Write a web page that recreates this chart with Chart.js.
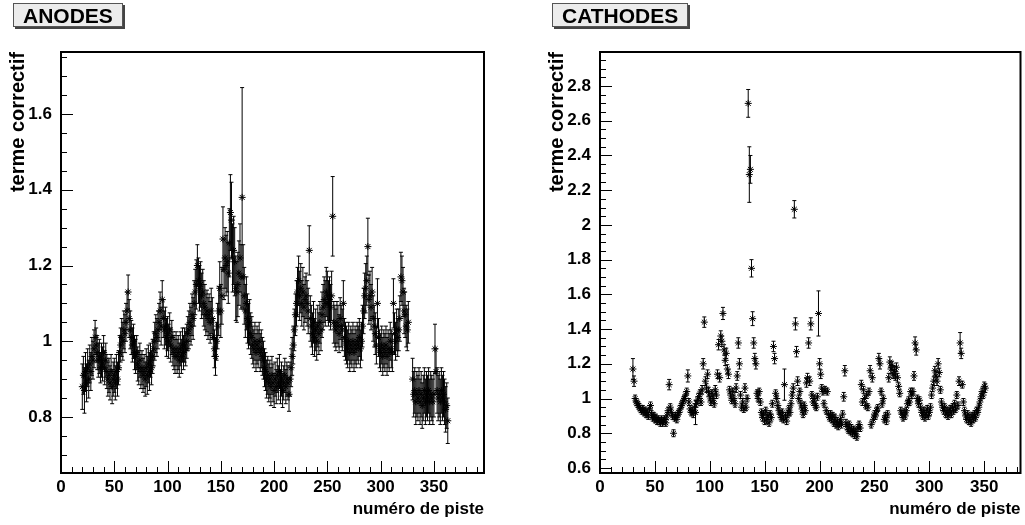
<!DOCTYPE html>
<html>
<head>
<meta charset="utf-8">
<script src="https://cdn.jsdelivr.net/npm/chart.js@4.4.1/dist/chart.umd.min.js"></script>
<style>
  body { margin: 0; background: #fff; }
  #page { position: relative; width: 1025px; height: 525px; overflow: hidden; }
  canvas { position: absolute; top: 0; }
  .pave {
    position: absolute; top: 3px; height: 22px; line-height: 23px; padding: 0 9px;
    background: #ececec; border: 1px solid #555; box-shadow: 2px 2px 0 #444;
    font: bold 21px 'Liberation Sans', Arial, Helvetica, sans-serif; color: #000; white-space: nowrap;
  }
</style>
</head>
<body>
<div id="page">
  <canvas id="anodes" width="512" height="525" style="left:0"></canvas>
  <canvas id="cathodes" width="486" height="525" style="left:539px"></canvas>
  <div class="pave" id="title0" style="left:13px"></div>
  <div class="pave" id="title1" style="left:552px"></div>
</div>
<script>
// panel titles and axis titles
const panelTitles = ['ANODES', 'CATHODES'];
const xTitle = 'numéro de piste';
const yTitle = 'terme correctif';

// anodes: first strip number, then one value per strip (null = missing strip)
const anodeFirst = 20;
const anodeValues = [
  0.88, 0.91, 0.87, 0.92, 0.89, 0.93, 0.90, 0.94, 0.92, 0.96,
  0.95, 0.98, 1.01, 0.99, 0.97, 0.95, 0.96, 0.93, 0.95, 0.94,
  0.97, 0.93, 0.95, 0.92, 0.90, 0.91, 0.89, 0.92, 0.88, 0.90,
  0.91, 0.89, 0.92, 0.90, 0.93, 0.97, 0.99, 1.01, 1.00, 1.03,
  1.02, 1.05, 1.08, 1.13, 1.06, 1.03, 1.01, 0.99, 1.00, 0.97,
  0.96, 0.97, 0.94, 0.93, 0.95, 0.92, 0.93, 0.91, 0.92, 0.90,
  0.93, 0.91, 0.94, 0.92, 0.95, 0.93, 0.96, 0.98, 1.00, 1.02,
  1.01, 1.03, 1.05, 1.08, 1.04, 1.11, 1.06, 1.03, 1.04, 1.01,
  1.02, 1.00, 1.03, 0.99, 1.01, 0.98, 0.97, 0.96, 0.98, 0.96,
  0.97, 0.95, 0.98, 0.96, 0.99, 0.97, 0.99, 0.98, 1.00, 1.02,
  1.03, 1.05, 1.04, 1.07, 1.06, 1.10, 1.13, 1.15, 1.20, 1.16,
  1.14, 1.15, 1.12, 1.13, 1.10, 1.09, 1.07, 1.08, 1.06, 1.07,
  1.05, 1.08, 1.06, 1.01, 0.98, 0.96, 1.00, 1.04, 1.08, 1.14,
  1.08, 1.12, 1.27, 1.19, 1.22, 1.20, 1.21, 1.18, 1.26, 1.34,
  1.32, 1.22, 1.24, 1.21, 1.14, 1.13, 1.15, 1.18, 1.22, 1.17,
  1.38, 1.17, 1.12, 1.08, 1.10, 1.06, 1.04, 1.05, 1.02, 1.01,
  0.99, 0.98, 1.00, 0.97, 0.99, 0.98, 1.00, 0.97, 0.98, 0.96,
  0.95, 0.93, 0.92, 0.90, 0.91, 0.89, 0.90, 0.88, 0.91, 0.89,
  0.87, 0.90, 0.88, 0.91, 0.89, 0.92, 0.88, 0.90, 0.87, 0.89,
  0.91, 0.88, 0.90, 0.89, 0.86, 0.90, 0.93, 0.96, 0.99, 1.03,
  1.07, 1.10, 1.13, 1.16, 1.12, 1.14, 1.10, 1.13, 1.09, 1.11,
  1.12, 1.10, 1.08, 1.24, 1.06, 1.04, 1.02, 1.05, 1.01, 1.03,
  1.00, 1.04, 1.02, 1.05, 1.03, 1.07, 1.09, 1.11, 1.10, 1.13,
  1.12, 1.10, 1.11, 1.09, 1.12, 1.33, 1.05, 1.04, 1.03, 1.05,
  1.04, 1.02, 1.06, 1.04, 1.03, 1.10, 1.01, 1.00, 0.99, 0.98,
  1.00, 0.97, 0.99, 0.98, 1.00, 0.97, 0.99, 0.98, 1.00, 0.99,
  1.01, 0.98, 1.00, 1.04, 1.08, 1.12, 1.14, 1.16, 1.25, 1.11,
  1.12, 1.09, 1.13, 1.06, 1.04, 1.02, 0.99, 1.10, 1.01, 0.98,
  0.97, 0.99, 0.96, 0.98, 0.97, 0.99, 0.96, 0.98, 0.97, 1.00,
  0.98, 0.97, 1.10, 1.02, 1.00, 1.03, 1.01, 1.03, 1.06, 1.17,
  1.16, 1.13, 1.08, 1.07, 1.04, 1.03, 1.05, null, null, null,
  0.90, 0.86, 0.87, 0.84, 0.86, 0.85, 0.87, 0.84, 0.86, 0.83,
  0.85, 0.87, 0.84, 0.86, 0.85, 0.87, 0.84, 0.86, 0.85, 0.84,
  0.86, 0.98, 0.92, 0.87, 0.85, 0.86, 0.84, 0.87, 0.85, 0.86,
  0.84, 0.82, 0.83, 0.79
];
const anodeErrors = [
  0.06, 0.05, 0.06, 0.05, 0.05, 0.05, 0.05, 0.05, 0.05, 0.05,
  0.05, 0.05, 0.045, 0.045, 0.045, 0.045, 0.045, 0.04, 0.045, 0.045,
  0.045, 0.045, 0.045, 0.045, 0.045, 0.045, 0.045, 0.045, 0.045, 0.045,
  0.045, 0.045, 0.045, 0.045, 0.045, 0.045, 0.045, 0.05, 0.05, 0.05,
  0.05, 0.05, 0.05, 0.045, 0.05, 0.05, 0.045, 0.045, 0.045, 0.045,
  0.045, 0.045, 0.045, 0.045, 0.045, 0.045, 0.045, 0.045, 0.045, 0.045,
  0.05, 0.05, 0.05, 0.05, 0.045, 0.045, 0.045, 0.045, 0.05, 0.05,
  0.05, 0.05, 0.05, 0.05, 0.05, 0.05, 0.05, 0.05, 0.05, 0.05,
  0.045, 0.045, 0.045, 0.045, 0.045, 0.045, 0.045, 0.045, 0.045, 0.045,
  0.045, 0.045, 0.045, 0.045, 0.045, 0.045, 0.045, 0.045, 0.045, 0.045,
  0.05, 0.05, 0.05, 0.055, 0.055, 0.06, 0.06, 0.065, 0.055, 0.06,
  0.06, 0.06, 0.06, 0.06, 0.06, 0.06, 0.055, 0.055, 0.055, 0.055,
  0.055, 0.06, 0.055, 0.05, 0.05, 0.05, 0.05, 0.06, 0.065, 0.07,
  0.07, 0.075, 0.085, 0.08, 0.08, 0.08, 0.08, 0.08, 0.09, 0.1,
  0.1, 0.09, 0.09, 0.09, 0.085, 0.08, 0.085, 0.085, 0.09, 0.085,
  0.29, 0.085, 0.075, 0.07, 0.07, 0.065, 0.06, 0.06, 0.055, 0.055,
  0.05, 0.05, 0.05, 0.05, 0.05, 0.05, 0.05, 0.05, 0.05, 0.05,
  0.05, 0.05, 0.05, 0.05, 0.05, 0.05, 0.05, 0.05, 0.05, 0.05,
  0.045, 0.045, 0.045, 0.045, 0.045, 0.045, 0.045, 0.045, 0.045, 0.045,
  0.045, 0.045, 0.045, 0.045, 0.045, 0.045, 0.05, 0.05, 0.05, 0.055,
  0.055, 0.06, 0.065, 0.065, 0.065, 0.065, 0.06, 0.065, 0.06, 0.06,
  0.06, 0.06, 0.06, 0.065, 0.06, 0.055, 0.055, 0.055, 0.05, 0.055,
  0.05, 0.055, 0.055, 0.055, 0.055, 0.06, 0.06, 0.06, 0.06, 0.065,
  0.065, 0.06, 0.06, 0.06, 0.065, 0.105, 0.055, 0.055, 0.055, 0.055,
  0.055, 0.05, 0.055, 0.055, 0.055, 0.06, 0.05, 0.05, 0.05, 0.05,
  0.05, 0.05, 0.05, 0.05, 0.05, 0.05, 0.05, 0.05, 0.05, 0.05,
  0.05, 0.05, 0.05, 0.055, 0.06, 0.06, 0.065, 0.065, 0.075, 0.065,
  0.065, 0.06, 0.065, 0.06, 0.055, 0.055, 0.05, 0.065, 0.05, 0.05,
  0.05, 0.05, 0.05, 0.05, 0.05, 0.05, 0.05, 0.05, 0.05, 0.05,
  0.05, 0.05, 0.065, 0.055, 0.05, 0.055, 0.05, 0.055, 0.06, 0.065,
  0.065, 0.065, 0.06, 0.06, 0.055, 0.055, 0.055, null, null, null,
  0.055, 0.06, 0.06, 0.06, 0.06, 0.06, 0.06, 0.06, 0.06, 0.06,
  0.06, 0.06, 0.06, 0.06, 0.06, 0.06, 0.06, 0.06, 0.06, 0.06,
  0.06, 0.065, 0.06, 0.06, 0.06, 0.06, 0.06, 0.06, 0.06, 0.06,
  0.06, 0.06, 0.06, 0.06
];

// cathodes
const cathodeFirst = 30;
const cathodeValues = [
  1.17, 1.10, 1.00, 0.98, 0.97, 0.96, 0.95, 0.94, 0.93, 0.94,
  0.92, 0.93, 0.91, 0.92, 0.90, 0.94, 0.96, 0.91, 0.89, 0.90,
  0.88, 0.89, 0.87, 0.88, 0.87, 0.86, 0.88, 0.86, 0.87, 0.88,
  0.86, 0.90, 0.93, 1.08, 0.95, 0.92, 0.90, 0.80, 0.89, 0.90,
  0.88, 0.91, 0.92, 0.94, 0.96, 0.97, 0.99, 1.00, 1.02, 1.04,
  1.13, 0.98, 0.94, 0.92, 0.93, 0.91, 0.95, 0.92, 0.97, 0.99,
  1.01, 1.03, 0.98, 1.05, 1.20, 1.44, 1.10, 1.06, 1.14, 1.04,
  1.01, 0.98, 1.03, 1.00, 0.97, 1.05, 1.02, 1.14, 1.31, 1.12,
  1.36, 1.33, 1.49, 1.28, 1.22, 1.26, 1.17, 1.14, 1.05, 1.02,
  0.99, 1.04, 1.00, 0.97, 1.06, 1.13, 1.32, 1.20, 1.02, 0.95,
  0.98, 0.94, 1.06, 0.95, 1.00, 2.70, 2.29, 2.32, 1.75, 1.46,
  1.32, 1.23, 1.20, 1.03, 1.00, 1.04, 0.98, 0.92, 0.89, 0.91,
  0.87, 0.93, 0.88, 0.90, 0.86, 0.91, 0.89, 0.97, 1.30, 1.23,
  1.03, 1.00, 0.96, 0.93, 0.91, 0.89, 0.92, 0.88, 1.08, 0.90,
  0.87, 0.91, 0.94, 0.92, 0.97, 1.02, 1.06, 2.09, 1.43, 1.27,
  1.10, 1.00, 1.04, 0.97, 0.94, 0.91, 0.96, 0.93, 1.09, 1.12,
  1.32, 1.10, 1.43, 1.02, 0.98, 1.00, 0.96, 0.95, 1.01, 1.49,
  1.20, 1.14, 1.06, 1.04, 0.97, 1.05, 0.93, 1.04, 0.91, 0.89,
  0.91, 0.88, 0.90, 0.86, 0.89, 0.85, 0.87, 0.84, 0.86, 0.88,
  0.85, 0.91, 1.01, 1.16, 0.86, 0.84, 0.82, 0.85, 0.81, 0.83,
  0.80, 0.82, 0.79, 0.81, 0.78, 0.83, 0.85, 0.83, 1.08, 0.98,
  1.05, 1.00, 0.96, 1.02, 0.95, 1.04, 1.16, 0.85, 1.12, 0.88,
  0.91, 0.90, 0.93, 0.945, 1.23, 1.20, 1.04, 0.97, 1.00, 0.88,
  0.90, 0.87, 0.91, 1.12, 1.21, 1.17, 1.19, 1.14, 1.16, 1.13,
  1.18, 1.12, 1.07, 1.03, 0.93, 0.91, 0.89, 0.92, 0.90, 0.93,
  0.97, 0.99, 0.98, 1.04, 1.02, 1.04, 1.13, 1.32, 1.28, 1.00,
  0.97, 0.99, 0.95, 0.92, 0.90, 0.93, 0.89, 0.91, 0.94, 0.90,
  0.92, 0.95, 1.02, 1.06, 1.10, 1.16, 1.13, 1.10, 1.20, 1.15,
  1.05, 0.98, 0.95, 0.93, 0.95, 0.91, 0.93, 0.90, 0.92, 0.94,
  0.91, 0.95, 0.93, 0.97, 0.94, 1.02, 0.96, 1.10, 1.32, 1.26,
  1.08, 0.98, 0.93, 0.90, 0.88, 0.91, 0.87, 0.89, 0.86, 0.90,
  0.88, 0.91, 0.89, 0.93, 0.92, 0.95, 0.98, 1.01, 1.04, 1.02,
  1.07, 1.06
];
const cathodeErrors = [
  0.06, 0.03, 0.02, 0.02, 0.02, 0.02, 0.02, 0.02, 0.02, 0.02,
  0.02, 0.02, 0.02, 0.02, 0.02, 0.02, 0.02, 0.02, 0.02, 0.02,
  0.02, 0.02, 0.02, 0.02, 0.02, 0.02, 0.02, 0.02, 0.02, 0.02,
  0.02, 0.02, 0.02, 0.03, 0.02, 0.02, 0.02, 0.02, 0.02, 0.02,
  0.02, 0.02, 0.02, 0.02, 0.02, 0.02, 0.02, 0.02, 0.02, 0.02,
  0.035, 0.02, 0.02, 0.02, 0.02, 0.02, 0.02, 0.07, 0.02, 0.02,
  0.02, 0.02, 0.02, 0.025, 0.03, 0.03, 0.025, 0.025, 0.025, 0.025,
  0.02, 0.02, 0.02, 0.02, 0.02, 0.025, 0.02, 0.025, 0.03, 0.025,
  0.03, 0.03, 0.035, 0.03, 0.03, 0.03, 0.025, 0.025, 0.02, 0.02,
  0.02, 0.02, 0.02, 0.02, 0.025, 0.025, 0.03, 0.03, 0.02, 0.02,
  0.02, 0.02, 0.025, 0.02, 0.02, 0.08, 0.16, 0.08, 0.05, 0.04,
  0.03, 0.03, 0.03, 0.02, 0.02, 0.02, 0.02, 0.02, 0.02, 0.02,
  0.02, 0.02, 0.025, 0.02, 0.02, 0.02, 0.02, 0.02, 0.03, 0.03,
  0.02, 0.02, 0.02, 0.02, 0.02, 0.02, 0.02, 0.02, 0.09, 0.02,
  0.02, 0.02, 0.02, 0.02, 0.02, 0.02, 0.025, 0.05, 0.035, 0.03,
  0.025, 0.02, 0.02, 0.02, 0.02, 0.02, 0.02, 0.02, 0.025, 0.025,
  0.03, 0.025, 0.035, 0.02, 0.02, 0.02, 0.02, 0.02, 0.02, 0.13,
  0.03, 0.025, 0.02, 0.02, 0.02, 0.02, 0.02, 0.02, 0.02, 0.02,
  0.02, 0.02, 0.02, 0.02, 0.02, 0.02, 0.02, 0.02, 0.02, 0.02,
  0.02, 0.02, 0.025, 0.03, 0.02, 0.02, 0.02, 0.02, 0.02, 0.02,
  0.02, 0.02, 0.02, 0.02, 0.02, 0.02, 0.02, 0.02, 0.025, 0.02,
  0.02, 0.02, 0.02, 0.02, 0.02, 0.02, 0.03, 0.02, 0.025, 0.02,
  0.02, 0.02, 0.02, 0.02, 0.03, 0.03, 0.02, 0.02, 0.02, 0.02,
  0.02, 0.02, 0.02, 0.025, 0.03, 0.025, 0.025, 0.025, 0.025, 0.025,
  0.025, 0.025, 0.02, 0.02, 0.02, 0.02, 0.02, 0.02, 0.02, 0.02,
  0.02, 0.02, 0.02, 0.02, 0.02, 0.02, 0.025, 0.035, 0.03, 0.02,
  0.02, 0.02, 0.02, 0.02, 0.02, 0.02, 0.02, 0.02, 0.02, 0.02,
  0.02, 0.02, 0.02, 0.02, 0.025, 0.025, 0.025, 0.025, 0.03, 0.025,
  0.02, 0.02, 0.02, 0.02, 0.02, 0.02, 0.02, 0.02, 0.02, 0.02,
  0.02, 0.02, 0.02, 0.02, 0.02, 0.02, 0.02, 0.025, 0.06, 0.03,
  0.02, 0.02, 0.02, 0.02, 0.02, 0.02, 0.02, 0.02, 0.02, 0.02,
  0.02, 0.02, 0.02, 0.02, 0.02, 0.02, 0.02, 0.02, 0.02, 0.02,
  0.025, 0.025
];

const FONT = "'Liberation Sans', Arial, Helvetica, sans-serif";
Chart.defaults.font.family = FONT;
Chart.defaults.color = '#000';

document.getElementById('title0').textContent = panelTitles[0];
document.getElementById('title1').textContent = panelTitles[1];

// error bars, frame and inside ticks like the ROOT canvas
const rootFrame = {
  id: 'rootFrame',
  beforeDatasetsDraw(chart) {
    const ctx = chart.ctx, a = chart.chartArea;
    const xs = chart.scales.x, ys = chart.scales.y;
    ctx.save();
    ctx.beginPath();
    ctx.rect(a.left, a.top, a.right - a.left, a.bottom - a.top);
    ctx.clip();
    ctx.strokeStyle = '#000';
    ctx.lineWidth = 1;
    ctx.beginPath();
    chart.data.datasets[0].data.forEach(p => {
      const px = xs.getPixelForValue(p.x);
      const top = ys.getPixelForValue(p.y + p.e);
      const bot = ys.getPixelForValue(p.y - p.e);
      ctx.moveTo(px, top); ctx.lineTo(px, bot);
      ctx.moveTo(px - 2, top); ctx.lineTo(px + 2, top);
      ctx.moveTo(px - 2, bot); ctx.lineTo(px + 2, bot);
    });
    ctx.stroke();
    ctx.restore();
  },
  afterDatasetsDraw(chart) {
    const ctx = chart.ctx, a = chart.chartArea;
    const xs = chart.scales.x, ys = chart.scales.y;
    ctx.save();
    ctx.strokeStyle = '#000';
    ctx.lineWidth = 1;
    ctx.beginPath();
    for (let v = 0; v <= xs.max; v += 10) {
      const px = Math.round(xs.getPixelForValue(v)) + 0.5;
      const len = v % 50 === 0 ? 12 : 6;
      ctx.moveTo(px, a.bottom); ctx.lineTo(px, a.bottom - len);
    }
    for (let k = Math.ceil(ys.min / 0.05 - 1e-6); k * 0.05 <= ys.max; k++) {
      const py = Math.round(ys.getPixelForValue(k * 0.05)) + 0.5;
      const len = k % 4 === 0 ? 12 : 6;
      ctx.moveTo(a.left, py); ctx.lineTo(a.left + len, py);
    }
    ctx.stroke();
    ctx.lineWidth = 2;
    ctx.strokeRect(a.left, a.top, a.right - a.left, a.bottom - a.top);
    ctx.restore();
  }
};

function buildChart(id, first, values, errors, xMax, yMin, yMax, padRight) {
  const points = [];
  values.forEach((v, i) => {
    if (v !== null) points.push({ x: first + i, y: v, e: errors[i] });
  });
  const tickFont = { family: FONT, size: 17, weight: 'bold' };
  const yTitleFont = { family: FONT, size: 20, weight: 'bold' };
  return new Chart(document.getElementById(id), {
    type: 'scatter',
    data: {
      datasets: [{
        data: points,
        pointStyle: 'star',
        radius: 3.5,
        hoverRadius: 3.5,
        borderColor: '#000',
        backgroundColor: '#000',
        borderWidth: 1
      }]
    },
    options: {
      responsive: false,
      animation: false,
      devicePixelRatio: 1,
      events: [],
      layout: { padding: { left: 0, top: 52, right: padRight, bottom: 0 } },
      plugins: { legend: { display: false }, tooltip: { enabled: false } },
      scales: {
        x: {
          type: 'linear', min: 0, max: xMax,
          afterFit: s => { s.height = 52; },
          grid: { display: false, drawTicks: false },
          border: { display: false },
          ticks: { stepSize: 50, includeBounds: false, padding: 4, maxRotation: 0, autoSkip: false, color: '#000', font: tickFont },
          title: { display: true, text: xTitle, align: 'end', color: '#000', font: tickFont, padding: { top: 0, bottom: 5 } }
        },
        y: {
          type: 'linear', min: yMin, max: yMax,
          afterFit: s => { s.width = 61; },
          grid: { display: false, drawTicks: false },
          border: { display: false },
          ticks: {
            stepSize: 0.2, includeBounds: false, padding: 9, color: '#000', font: tickFont,
            callback: v => String(Number(v.toFixed(2)))
          },
          title: { display: true, text: yTitle, align: 'end', color: '#000', font: yTitleFont, padding: { top: 6, bottom: 0 } }
        }
      }
    },
    plugins: [rootFrame]
  });
}

buildChart('anodes', anodeFirst, anodeValues, anodeErrors, 397, 0.652, 1.764, 28);
buildChart('cathodes', cathodeFirst, cathodeValues, cathodeErrors, 383, 0.571, 2.996, 3);
</script>
</body>
</html>
